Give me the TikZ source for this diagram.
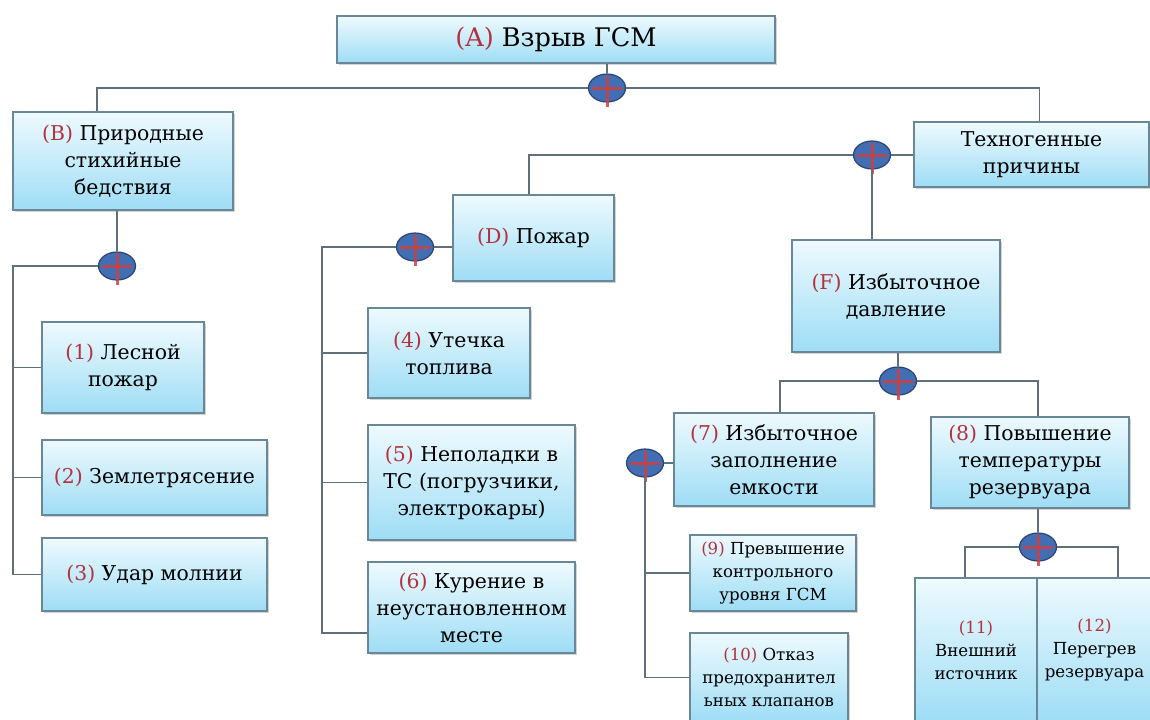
\documentclass[tikz,border=0pt]{standalone}
\usepackage{fontspec}
\setmainfont{DejaVu Serif}
\usetikzlibrary{positioning, shapes.geometric, shadows}

\definecolor{boxtop}{RGB}{238,250,254}
\definecolor{boxbot}{RGB}{158,221,245}
\definecolor{boxline}{RGB}{105,135,150}
\definecolor{wirecol}{RGB}{95,112,122}
\definecolor{gateblue}{RGB}{66,110,180}
\definecolor{gateline}{RGB}{45,68,115}
\definecolor{gatered}{RGB}{205,65,65}
\definecolor{tagred}{RGB}{180,50,62}

\newcommand{\ev}[1]{\textcolor{tagred}{#1}}

\tikzset{
  box/.style 2 args={draw=boxline, line width=0.6pt, top color=boxtop, bottom color=boxbot,
    minimum width=#1*0.5pt, minimum height=#2*0.5pt, align=center, inner sep=2pt,
    drop shadow={shadow xshift=1pt, shadow yshift=-1.2pt, opacity=0.35},
    font=\fontsize{10.2}{13.5}\selectfont},
  small/.style={font=\fontsize{8.3}{11.5}\selectfont},
  gate/.style={ellipse, draw=gateline, line width=0.6pt, fill=gateblue,
    minimum width=18.5pt, minimum height=14pt, inner sep=0pt},
  wire/.style={draw=wirecol, line width=0.75pt},
  plus/.style={draw=gatered, line width=1.5pt, opacity=0.85}
}

\begin{document}
\begin{tikzpicture}[x=0.5pt, y=-0.5pt]
    \useasboundingbox (0,0) rectangle (1150,719);
    \clip (0,0) rectangle (1150,719);

    % boxes
    \node[box={438}{47}, font=\fontsize{12.8}{15}\selectfont] (A) at (556,39.5) {\ev{(A)} Взрыв ГСМ};
    \node[box={220}{98}] (B) at (123,161) {\ev{(B)} Природные\\стихийные\\бедствия};
    \node[box={235}{65}] (T) at (1031.5,154.5) {Техногенные\\причины};
    \node[box={161}{86}] (D) at (533.5,238) {\ev{(D)} Пожар};
    \node[box={208}{112}] (F) at (896,296) {\ev{(F)} Избыточное\\давление};
    \node[box={162}{91}] (n1) at (123,367.5) {\ev{(1)} Лесной\\пожар};
    \node[box={225}{75}] (n2) at (154.5,477.5) {\ev{(2)} Землетрясение};
    \node[box={225}{73}] (n3) at (154.5,574.5) {\ev{(3)} Удар молнии};
    \node[box={162}{90}] (n4) at (449,353) {\ev{(4)} Утечка\\топлива};
    \node[box={207}{115}] (n5) at (471.5,482.5) {\ev{(5)} Неполадки в\\ТС (погрузчики,\\электрокары)};
    \node[box={207}{91}] (n6) at (471.5,607.5) {\ev{(6)} Курение в\\неустановленном\\месте};
    \node[box={200}{93}] (n7) at (774,459.5) {\ev{(7)} Избыточное\\заполнение\\емкости};
    \node[box={198}{91}] (n8) at (1030,462.5) {\ev{(8)} Повышение\\температуры\\резервуара};
    \node[box={166}{76}, small] (n9) at (773,573) {\ev{(9)} Превышение\\контрольного\\уровня ГСМ};
    \node[box={158}{89}, small] (n10) at (769,677.5) {\ev{(10)} Отказ\\предохранител\\ьных клапанов};
    \node[box={122}{144}, small] (n11) at (976,650) {\ev{(11)}\\Внешний\\источник};
    \node[box={115}{144}, small] (n12) at (1094.5,650) {\ev{(12)}\\Перегрев\\резервуара};

    % gates
    \node[gate] (gA) at (607,88) {};
    \node[gate] (gB) at (117,266) {};
    \node[gate] (gT) at (872,155) {};
    \node[gate] (gD) at (415,247) {};
    \node[gate] (gF) at (898,381) {};
    \node[gate] (g7) at (645,463) {};
    \node[gate] (g8) at (1038,547) {};
    \foreach \g in {gA,gB,gT,gD,gF,g7,g8} {
        \draw[plus] ([xshift=-7.5pt]\g.center) -- ([xshift=7.5pt]\g.center);
        \draw[plus] ([yshift=6pt]\g.center) -- ([yshift=-9.5pt]\g.center);
    }

    \coordinate (trB) at (13,0);
    \coordinate (trD) at (322,0);
    \coordinate (n6in) at ([yshift=-12.75pt]n6.west);

    % connectors
    \draw[wire] (A.south -| gA.north) -- (gA.north);
    \draw[wire] (gA.west) -| ([xshift=-13pt]B.north);
    \draw[wire] (gA.east) -| ([xshift=4pt]T.north);
    \draw[wire] (B.south -| gB.north) -- (gB.north);
    \draw[wire] (gB.west) -| (trB |- n3.west) -- (n3.west);
    \draw[wire] (trB |- n1.west) -- (n1.west);
    \draw[wire] (trB |- n2.west) -- (n2.west);
    \draw[wire] (gT.east) -- (gT.east -| T.west);
    \draw[wire] (gT.west) -| ([xshift=-2.25pt]D.north);
    \draw[wire] (gT.south) -- (gT.south |- F.north);
    \draw[wire] (gD.east) -- (gD.east -| D.west);
    \draw[wire] (gD.west) -| (trD |- n6in) -- (n6in);
    \draw[wire] (trD |- n4.west) -- (n4.west);
    \draw[wire] (trD |- n5.west) -- (n5.west);
    \draw[wire] (F.south -| gF.north) -- (gF.north);
    \draw[wire] (gF.west) -| ([xshift=3pt]n7.north);
    \draw[wire] (gF.east) -| ([xshift=4pt]n8.north);
    \draw[wire] (g7.east) -- (g7.east -| n7.west);
    \draw[wire] (g7.south) |- (n10.west);
    \draw[wire] (g7 |- n9.west) -- (n9.west);
    \draw[wire] (n8.south -| g8.north) -- (g8.north);
    \draw[wire] (g8.west) -| ([xshift=-5.5pt]n11.north);
    \draw[wire] (g8.east) -| ([xshift=11.75pt]n12.north);
\end{tikzpicture}
\end{document}
